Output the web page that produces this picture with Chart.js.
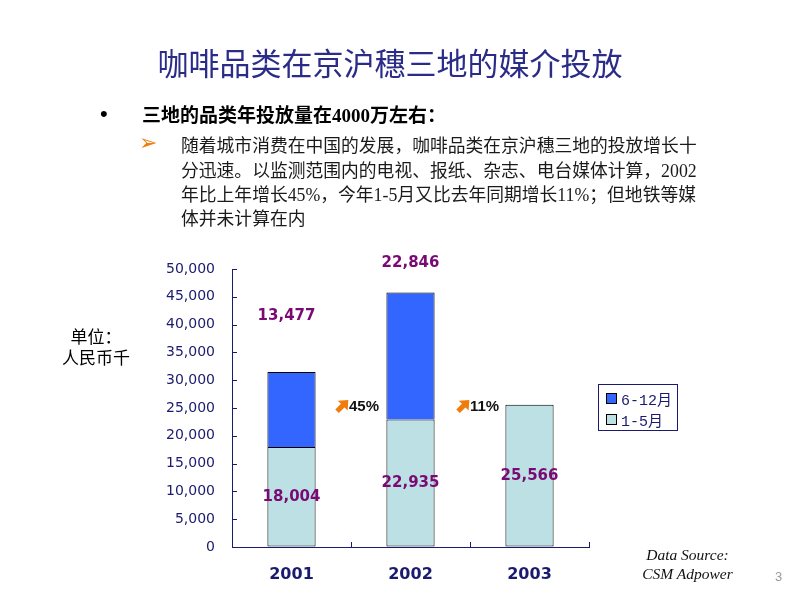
<!DOCTYPE html>
<html>
<head>
<meta charset="utf-8">
<script src="https://cdn.jsdelivr.net/npm/chart.js@4"></script>
<style>
  html,body{margin:0;padding:0;background:#fff;}
  #wrap{position:relative;width:800px;height:600px;overflow:hidden;font-family:"Noto Sans CJK SC",sans-serif;}
  #c{position:absolute;left:0;top:0;}
  .abs{position:absolute;white-space:nowrap;}
  #title{left:0;width:780px;top:42px;text-align:center;font-size:31px;color:#2b2b88;line-height:40px;}
  #bullet{left:100px;top:101px;font-size:22px;color:#000;font-family:"Liberation Sans",sans-serif;}
  #head{left:142px;top:103px;font-size:19px;font-weight:bold;color:#000;font-family:"Liberation Serif","Noto Sans CJK SC",serif;line-height:26px;}
  #arrowB{left:139px;top:130px;font-size:22px;color:#f07c0c;font-family:"DejaVu Sans",sans-serif;}
  .ln{left:181px;font-size:17.8px;color:#1a1a1a;font-family:"Liberation Serif","Noto Sans CJK SC",serif;line-height:24px;}
  #unit{left:50px;width:92px;top:325px;text-align:center;font-size:17px;color:#000;line-height:21px;}
  #legend{left:598px;top:384px;width:80px;height:47px;border:1px solid #1a1a6e;box-sizing:border-box;padding:3px 0 0 7px;}
  .li{display:flex;align-items:center;height:21px;font-family:"Liberation Mono","Noto Sans CJK SC",monospace;font-size:15px;color:#1a1a6e;}
  .sw{width:11px;height:11px;border:1px solid #000;margin-right:4px;box-sizing:border-box;}
  #src{left:620px;width:135px;top:545px;text-align:center;font-family:"Liberation Serif",serif;font-style:italic;font-size:15.5px;line-height:19px;color:#111;}
  #pg{left:775px;top:569px;font-family:"Liberation Sans",sans-serif;font-size:13px;color:#9a9a9a;}
</style>
</head>
<body>
<div id="wrap">
  <canvas id="c" width="800" height="600"></canvas>
  <div id="title" class="abs">咖啡品类在京沪穗三地的媒介投放</div>
  <div id="bullet" class="abs">•</div>
  <div id="head" class="abs">三地的品类年投放量在4000万左右：</div>
  <div id="arrowB" class="abs">➢</div>
  <div class="abs ln" style="top:134px">随着城市消费在中国的发展，咖啡品类在京沪穗三地的投放增长十</div>
  <div class="abs ln" style="top:159px">分迅速。以监测范围内的电视、报纸、杂志、电台媒体计算，2002</div>
  <div class="abs ln" style="top:183px">年比上年增长45%，今年1-5月又比去年同期增长11%；但地铁等媒</div>
  <div class="abs ln" style="top:207px">体并未计算在内</div>
  <div id="unit" class="abs">单位：<br>人民币千</div>
  <div id="legend" class="abs"></div>
  <div id="src" class="abs">Data Source:<br>CSM Adpower</div>
  <div id="pg" class="abs">3</div>
</div>
<script>
// ---- data ----
const categories = ['2001', '2002', '2003'];
const seriesJanMay = [18004, 22935, 25566];   // 1-5月
const seriesJunDec = [13477, 22846, null];    // 6-12月
const seriesNames = ['1-5月', '6-12月'];
const yTicks = [0, 5000, 10000, 15000, 20000, 25000, 30000, 35000, 40000, 45000, 50000];
const growthLabels = ['45%', '11%'];
// value-space anchors for the 6-12月 labels (placed above the bars as in the source)
const topLabelAnchor = [41500, 51000, null];

const colJanMay = '#bce0e3';
const colJunDec = '#3366ff';
const navy = '#1a1a6e';
const purple = '#7a0a73';

// legend (HTML)
const legendItems = [{name: seriesNames[1], color: colJunDec}, {name: seriesNames[0], color: colJanMay}];
document.getElementById('legend').innerHTML = legendItems.map(it =>
  `<div class="li"><span class="sw" style="background:${it.color}"></span>${it.name}</div>`).join('');

const fmt = v => v.toLocaleString('en-US');

const decorPlugin = {
  id: 'decor',
  afterDraw(chart) {
    const ctx = chart.ctx;
    const xs = chart.scales.x, ys = chart.scales.y;
    const area = chart.chartArea;
    const cw = xs.width / categories.length;
    ctx.save();
    // inner tick marks
    ctx.strokeStyle = navy; ctx.lineWidth = 1;
    ctx.beginPath();
    for (let i = 1; i <= categories.length; i++) {
      const x = Math.round(xs.getPixelForTick(i - 1) + cw / 2) + 0.5;
      ctx.moveTo(x, area.bottom); ctx.lineTo(x, area.bottom - 5);
    }
    yTicks.forEach(v => {
      const y = Math.round(ys.getPixelForValue(v)) + 0.5;
      ctx.moveTo(area.left, y); ctx.lineTo(area.left + 5, y);
    });
    ctx.stroke();

    // data labels
    ctx.fillStyle = purple;
    ctx.font = 'bold 15px "DejaVu Sans"';
    ctx.textAlign = 'center'; ctx.textBaseline = 'middle';
    categories.forEach((c, i) => {
      const x = xs.getPixelForTick(i);
      if (seriesJanMay[i] != null) {
        ctx.fillText(fmt(seriesJanMay[i]), x, ys.getPixelForValue(seriesJanMay[i] / 2));
      }
      if (seriesJunDec[i] != null && topLabelAnchor[i] != null) {
        ctx.fillText(fmt(seriesJunDec[i]), x - (i === 0 ? 5 : 0), ys.getPixelForValue(topLabelAnchor[i]));
      }
    });

    // growth arrows between categories
    growthLabels.forEach((g, i) => {
      const xb = xs.getPixelForTick(i) + cw / 2;
      const cx = xb + (i === 0 ? -9 : -7);
      const cy = ys.getPixelForValue(25300);
      ctx.save();
      ctx.translate(cx, cy);
      ctx.rotate(-Math.PI / 4);
      ctx.fillStyle = '#f07c0c';
      ctx.beginPath();
      ctx.moveTo(-7, -2.5); ctx.lineTo(1, -2.5); ctx.lineTo(1, -7);
      ctx.lineTo(9, 0); ctx.lineTo(1, 7); ctx.lineTo(1, 2.5); ctx.lineTo(-7, 2.5);
      ctx.closePath(); ctx.fill();
      ctx.restore();
      ctx.fillStyle = '#111';
      ctx.font = 'bold 15px "Liberation Sans Narrow","Liberation Sans"';
      ctx.textAlign = 'left';
      ctx.fillText(g, cx + 7, cy + 1);
      ctx.textAlign = 'center';
    });
    ctx.restore();
  }
};

new Chart(document.getElementById('c'), {
  type: 'bar',
  data: {
    labels: categories,
    datasets: [
      {label: seriesNames[0], data: seriesJanMay, backgroundColor: colJanMay, borderColor: '#000', borderWidth: 1, borderSkipped: false, barPercentage: 0.405, categoryPercentage: 1.0},
      {label: seriesNames[1], data: seriesJunDec, backgroundColor: colJunDec, borderColor: '#000', borderWidth: 1, borderSkipped: 'start', barPercentage: 0.405, categoryPercentage: 1.0}
    ]
  },
  options: {
    responsive: false,
    animation: false,
    layout: {padding: {left: 152, top: 269, right: 211, bottom: 13}},
    plugins: {legend: {display: false}, tooltip: {enabled: false}},
    scales: {
      x: {
        stacked: true,
        grid: {display: true, drawOnChartArea: false, drawTicks: false},
        border: {display: true, color: navy, width: 1},
        ticks: {color: navy, font: {family: '"DejaVu Sans"', size: 16, weight: 'bold'}, padding: 18},
        afterFit(s) { s.height = 40; }
      },
      y: {
        stacked: true,
        min: 0, max: 50000,
        afterBuildTicks(s) { s.ticks = yTicks.map(v => ({value: v})); },
        grid: {display: true, drawOnChartArea: false, drawTicks: false},
        border: {display: true, color: navy, width: 1},
        ticks: {color: navy, font: {family: '"DejaVu Sans"', size: 14}, padding: 17, callback: v => fmt(v)},
        afterFit(s) { s.width = 80; }
      }
    }
  },
  plugins: [decorPlugin]
});
</script>
</body>
</html>
